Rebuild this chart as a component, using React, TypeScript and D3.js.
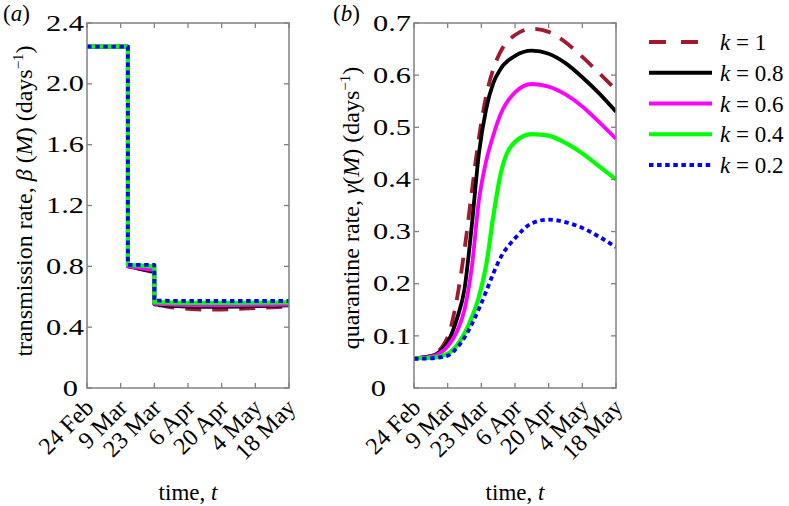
import React from 'react';
import * as d3 from 'd3';

// legend / series
const kLabels = ['1', '0.8', '0.6', '0.4', '0.2'];
const colors = ['#a01b30', '#000000', '#ff00ff', '#00ff00', '#0000ff'];

// time axis (days after 24 Feb)
const dateTicks = [0, 14, 28, 42, 56, 70, 84];
const dateLabels = ['24 Feb', '9 Mar', '23 Mar', '6 Apr', '20 Apr', '4 May', '18 May'];

const betaTicks = [0, 0.4, 0.8, 1.2, 1.6, 2.0, 2.4];
const betaTickLabels = ['0', '0.4', '0.8', '1.2', '1.6', '2.0', '2.4'];
const gammaTicks = [0, 0.1, 0.2, 0.3, 0.4, 0.5, 0.6, 0.7];
const gammaTickLabels = ['0', '0.1', '0.2', '0.3', '0.4', '0.5', '0.6', '0.7'];

// panel (a): transmission rate
const betaDays = [0, 17, 17, 28, 28, 35, 42, 49, 56, 63, 70, 77, 84];
const betaK1 = [2.245, 2.245, 0.8, 0.76, 0.55, 0.53, 0.52, 0.515, 0.515, 0.52, 0.525, 0.53, 0.535];
const betaK08 = [2.245, 2.245, 0.8, 0.765, 0.55, 0.54, 0.535, 0.533, 0.533, 0.535, 0.538, 0.54, 0.543];
const betaK06 = [2.245, 2.245, 0.8, 0.775, 0.555, 0.548, 0.545, 0.544, 0.544, 0.545, 0.546, 0.547, 0.548];
const betaK04 = [2.245, 2.245, 0.81, 0.8, 0.565, 0.562, 0.56, 0.56, 0.56, 0.56, 0.561, 0.562, 0.563];
const betaK02 = [2.245, 2.245, 0.81, 0.81, 0.575, 0.573, 0.572, 0.572, 0.572, 0.572, 0.572, 0.572, 0.572];

// panel (b): quarantine rate
const gammaDays = [0, 7, 14, 18, 21, 24, 27, 30, 33, 36, 42, 49, 56, 63, 70, 77, 84];
const gammaK1 = [0.057, 0.062, 0.098, 0.175, 0.265, 0.375, 0.48, 0.56, 0.612, 0.645, 0.677, 0.689, 0.683, 0.663, 0.635, 0.604, 0.572];
const gammaK08 = [0.057, 0.061, 0.088, 0.135, 0.19, 0.31, 0.45, 0.535, 0.585, 0.612, 0.637, 0.647, 0.641, 0.623, 0.596, 0.565, 0.53];
const gammaK06 = [0.057, 0.06, 0.08, 0.11, 0.15, 0.23, 0.36, 0.435, 0.485, 0.525, 0.567, 0.583, 0.578, 0.563, 0.54, 0.51, 0.478];
const gammaK04 = [0.057, 0.058, 0.066, 0.083, 0.105, 0.135, 0.175, 0.235, 0.33, 0.41, 0.472, 0.487, 0.484, 0.47, 0.45, 0.425, 0.4];
const gammaK02 = [0.056, 0.057, 0.062, 0.078, 0.097, 0.122, 0.152, 0.185, 0.22, 0.25, 0.287, 0.316, 0.323, 0.318, 0.307, 0.29, 0.27];

const FONT = "'Liberation Serif', 'Times New Roman', serif";
const AXIS = '#808080';
const dashes = ['16 11', null, null, null, '4.5 3.6'];
const legendDashes = ['17 15', null, null, null, '4.5 3.6'];

type PanelProps = {
  id: string;
  x0: number;
  x1: number;
  yMax: number;
  ticks: number[];
  tickLabels: string[];
  zeroEnd: number;
  days: number[];
  series: number[][];
  curve: d3.CurveFactory;
};

const TOP = 23;
const BOTTOM = 388;

function Panel({ id, x0, x1, yMax, ticks, tickLabels, zeroEnd, days, series, curve }: PanelProps) {
  const x = d3.scaleLinear().domain([0, 84]).range([x0, x1]);
  const y = d3.scaleLinear().domain([0, yMax]).range([BOTTOM, TOP]);
  const line = d3
    .line<number>()
    .x((_, i) => x(days[i]))
    .y((d) => y(d))
    .curve(curve);
  return (
    <g>
      <defs>
        <clipPath id={id}>
          <rect x={x0} y={TOP} width={x1 - x0} height={BOTTOM - TOP} />
        </clipPath>
      </defs>
      <g clipPath={`url(#${id})`}>
        {series.map((s, i) => (
          <path
            key={i}
            d={line(s) || ''}
            fill="none"
            stroke={colors[i]}
            strokeWidth={i === 3 ? 4.2 : 3.8}
            strokeDasharray={dashes[i] || undefined}
            strokeLinejoin="round"
          />
        ))}
      </g>
      <rect x={x0} y={TOP} width={x1 - x0} height={BOTTOM - TOP} fill="none" stroke={AXIS} strokeWidth={1.5} />
      {dateTicks.map((d, i) => (
        <g key={'xt' + i}>
          <line x1={x(d)} x2={x(d)} y1={BOTTOM} y2={BOTTOM - 5} stroke={AXIS} strokeWidth={1.3} />
          <line x1={x(d)} x2={x(d)} y1={TOP} y2={TOP + 5} stroke={AXIS} strokeWidth={1.3} />
          <text
            transform={`translate(${x(d) + 8},${BOTTOM + 21}) rotate(-45)`}
            textAnchor="end"
            fontSize={24}
            fontFamily={FONT}
          >
            {dateLabels[i]}
          </text>
        </g>
      ))}
      {ticks.map((t, i) => (
        <g key={'yt' + i}>
          <line x1={x0} x2={x0 + 5} y1={y(t)} y2={y(t)} stroke={AXIS} strokeWidth={1.3} />
          <line x1={x1} x2={x1 - 5} y1={y(t)} y2={y(t)} stroke={AXIS} strokeWidth={1.3} />
          <text
            transform={`translate(${t === 0 ? zeroEnd : x0 - 3},${y(t)}) scale(1.35,1)`}
            dy="0.34em"
            textAnchor="end"
            fontSize={22.5}
            fontFamily={FONT}
          >
            {tickLabels[i]}
          </text>
        </g>
      ))}
      <text x={(x0 + x1) / 2} y={500} textAnchor="middle" fontSize={23} fontFamily={FONT}>
        time, <tspan fontStyle="italic">t</tspan>
      </text>
    </g>
  );
}

export default function App() {
  const legendY = d3.scaleLinear().domain([0, 4]).range([42, 165]);
  return (
    <svg width={789} height={506} style={{ display: 'block', position: 'absolute', left: 0, top: 0, background: '#fff' }}>
      <rect width={789} height={506} fill="#fff" />
      <text x={3} y={21} fontSize={23} fontFamily={FONT}>
        (<tspan fontStyle="italic">a</tspan>)
      </text>
      <text x={333} y={21} fontSize={23} fontFamily={FONT}>
        (<tspan fontStyle="italic">b</tspan>)
      </text>
      <Panel
        id="clipA"
        x0={87}
        x1={289}
        yMax={2.4}
        ticks={betaTicks}
        tickLabels={betaTickLabels}
        zeroEnd={78}
        days={betaDays}
        series={[betaK1, betaK08, betaK06, betaK04, betaK02]}
        curve={d3.curveLinear}
      />
      <Panel
        id="clipB"
        x0={414}
        x1={616}
        yMax={0.7}
        ticks={gammaTicks}
        tickLabels={gammaTickLabels}
        zeroEnd={386}
        days={gammaDays}
        series={[gammaK1, gammaK08, gammaK06, gammaK04, gammaK02]}
        curve={d3.curveMonotoneX}
      />
      <text transform="translate(32,201) rotate(-90)" textAnchor="middle" fontSize={24} fontFamily={FONT}>
        transmission rate, <tspan fontStyle="italic">β</tspan> (<tspan fontStyle="italic">M</tspan>) (days
        <tspan dy={-9} fontSize={15}>−1</tspan>
        <tspan dy={9}>)</tspan>
      </text>
      <text transform="translate(359,208) rotate(-90)" textAnchor="middle" fontSize={24} fontFamily={FONT}>
        quarantine rate, <tspan fontStyle="italic">γ</tspan>(<tspan fontStyle="italic">M</tspan>) (days
        <tspan dy={-9} fontSize={15}>−1</tspan>
        <tspan dy={9}>)</tspan>
      </text>
      {kLabels.map((k, i) => (
        <g key={'lg' + i}>
          <line
            x1={649}
            x2={712}
            y1={legendY(i)}
            y2={legendY(i)}
            stroke={colors[i]}
            strokeWidth={3.8}
            strokeDasharray={legendDashes[i] || undefined}
          />
          <text x={720} y={legendY(i) + 8} fontSize={23} fontFamily={FONT}>
            <tspan fontStyle="italic">k</tspan> = {k}
          </text>
        </g>
      ))}
    </svg>
  );
}
